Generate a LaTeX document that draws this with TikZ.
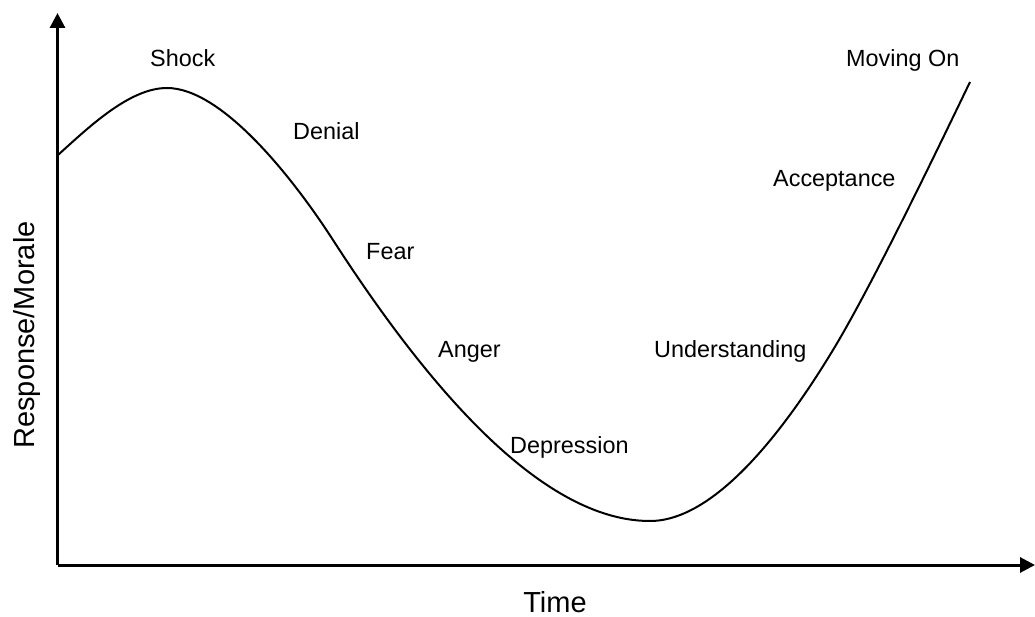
\documentclass[tikz,border=0pt]{standalone}
\usepackage{fontspec}
\setmainfont{Liberation Sans}
\usetikzlibrary{arrows.meta}
\begin{document}
\begin{tikzpicture}[x=1pt,y=-1pt,
  axis/.style={line width=3pt,-{Triangle[length=15pt,width=15pt]}},
  curve/.style={line width=2pt},
  stage/.style={inner sep=0pt,anchor=base west,font=\fontsize{23.4}{28}\selectfont},
  axislabel/.style={inner sep=0pt,font=\fontsize{29}{34}\selectfont}]
\useasboundingbox (0,0) rectangle (1035,617);
\coordinate (O) at (57.5,565);
\coordinate (ytip) at (57.5,13);
\coordinate (xtip) at (1035,565);
\draw[axis] (O) -- (ytip);
\draw[axis] (O) -- (xtip);
\draw[curve] (58,155) .. controls (90,126) and (130,88) .. (167,88)
  .. controls (222,88) and (293,178) .. (333,240)
  .. controls (433,395) and (545,521) .. (650,521)
  .. controls (720,521) and (793,416) .. (833,350)
  .. controls (873,284) and (940,144) .. (970,82);
\node[stage] (shock) at (150,67) {Shock};
\node[stage] (denial) at (293,140) {Denial};
\node[stage] (fear) at (366,260) {Fear};
\node[stage] (anger) at (438,357) {Anger};
\node[stage] (depression) at (510,453) {Depression};
\node[stage] (understanding) at (654,357) {Understanding};
\node[stage] (acceptance) at (773,187) {Acceptance};
\node[stage] (movingon) at (846,67) {Moving On};
\node[axislabel,anchor=base] (time) at (555,612) {Time};
\node[axislabel,anchor=base,rotate=90] (response) at (34,335) {Response/Morale};
\end{tikzpicture}
\end{document}
